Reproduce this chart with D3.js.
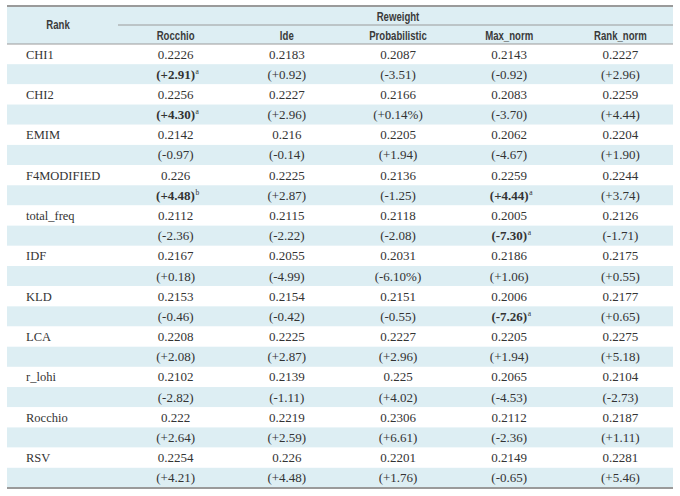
<!DOCTYPE html>
<html><head><meta charset="utf-8">
<script src="https://cdn.jsdelivr.net/npm/d3@7"></script>
<style>
html,body{margin:0;padding:0;background:#fff;}
svg{display:block;}
</style></head>
<body>
<script>
const groupTitle = "Reweight";
const rankTitle = "Rank";
const columns = ["Rocchio", "Ide", "Probabilistic", "Max_norm", "Rank_norm"];
const rowNames = ["CHI1","CHI2","EMIM","F4MODIFIED","total_freq","IDF","KLD","LCA","r_lohi","Rocchio","RSV"];
const values = [
  ["0.2226","0.2183","0.2087","0.2143","0.2227"],
  ["0.2256","0.2227","0.2166","0.2083","0.2259"],
  ["0.2142","0.216","0.2205","0.2062","0.2204"],
  ["0.226","0.2225","0.2136","0.2259","0.2244"],
  ["0.2112","0.2115","0.2118","0.2005","0.2126"],
  ["0.2167","0.2055","0.2031","0.2186","0.2175"],
  ["0.2153","0.2154","0.2151","0.2006","0.2177"],
  ["0.2208","0.2225","0.2227","0.2205","0.2275"],
  ["0.2102","0.2139","0.225","0.2065","0.2104"],
  ["0.222","0.2219","0.2306","0.2112","0.2187"],
  ["0.2254","0.226","0.2201","0.2149","0.2281"]
];
const changes = [
  ["+2.91","+0.92","-3.51","-0.92","+2.96"],
  ["+4.30","+2.96","+0.14%","-3.70","+4.44"],
  ["-0.97","-0.14","+1.94","-4.67","+1.90"],
  ["+4.48","+2.87","-1.25","+4.44","+3.74"],
  ["-2.36","-2.22","-2.08","-7.30","-1.71"],
  ["+0.18","-4.99","-6.10%","+1.06","+0.55"],
  ["-0.46","-0.42","-0.55","-7.26","+0.65"],
  ["+2.08","+2.87","+2.96","+1.94","+5.18"],
  ["-2.82","-1.11","+4.02","-4.53","-2.73"],
  ["+2.64","+2.59","+6.61","-2.36","+1.11"],
  ["+4.21","+4.48","+1.76","-0.65","+5.46"]
];
// significance marks: [row, col, mark]
const marks = [
  [0,0,"a"],[1,0,"a"],[3,0,"b"],[3,3,"a"],[4,3,"a"],[6,3,"a"]
];

const W = 680, H = 496;
const tLeft = 7, tRight = 673, tTop = 6, headH = 38;
const rowH = 20.18;
const bodyTop = tTop + headH;
const nRows = rowNames.length * 2;

const svg = d3.select("body").append("svg").attr("width", W).attr("height", H);

const x = d3.scaleBand().domain(columns).range([120, 676]);
const y = d3.scaleBand().domain(d3.range(nRows)).range([bodyTop, bodyTop + nRows * rowH]);
const cx = c => x(c) + x.bandwidth()/2;

const blue = "#ddeef3";
const text = "#333";
const serif = "'Liberation Serif', 'DejaVu Serif', serif";
const sans = "'Liberation Sans', Arial, sans-serif";

svg.append("rect").attr("x", tLeft).attr("y", tTop).attr("width", tRight-tLeft).attr("height", headH).attr("fill", blue);

svg.selectAll("rect.row").data(d3.range(nRows)).join("rect")
  .attr("class","row")
  .attr("x", tLeft).attr("width", tRight-tLeft)
  .attr("y", d => y(d)).attr("height", y.bandwidth())
  .attr("fill", d => d % 2 === 1 ? blue : "#fff");

svg.append("line").attr("x1", tLeft).attr("x2", tRight).attr("y1", tTop).attr("y2", tTop)
  .attr("stroke", "#9a9a9a").attr("stroke-width", 2);
svg.append("line").attr("x1", tLeft).attr("x2", tRight).attr("y1", bodyTop).attr("y2", bodyTop)
  .attr("stroke", "#9a9a9a").attr("stroke-width", 1);
svg.append("line").attr("x1", 118).attr("x2", tRight).attr("y1", tTop + 19).attr("y2", tTop + 19)
  .attr("stroke", "#9a9a9a").attr("stroke-width", 1);
const bottomY = bodyTop + nRows * rowH;
svg.append("line").attr("x1", tLeft).attr("x2", tRight).attr("y1", bottomY).attr("y2", bottomY)
  .attr("stroke", "#9a9a9a").attr("stroke-width", 2);

// header (condensed semi-bold look)
const hdr = svg.append("g").attr("font-family", sans).attr("font-weight", "bold").attr("font-size", 12).attr("fill", "#3a3a3a").attr("text-anchor","middle");
function hText(str, px, py) {
  hdr.append("text").attr("transform", `translate(${px},${py}) scale(0.8,1)`).text(str);
}
hText(rankTitle, 58, tTop + 23);
hText(groupTitle, 398, tTop + 15);
columns.forEach(c => hText(c, cx(c), tTop + 34));

const body = svg.append("g").attr("font-family", serif).attr("font-size", 13).attr("fill", text);
body.selectAll("text.name").data(rowNames).join("text").attr("class","name")
  .attr("x", 26).attr("y", (d,i) => y(i*2) + y.bandwidth()/2 + 4.5)
  .attr("textLength", null)
  .style("font-size", "12.5px")
  .text(d => d);

values.forEach((row, i) => {
  body.selectAll(null).data(row).join("text")
    .attr("text-anchor","middle")
    .attr("x", (d,j) => cx(columns[j]))
    .attr("y", y(i*2) + y.bandwidth()/2 + 4.5)
    .text(d => d);
});
changes.forEach((row, i) => {
  row.forEach((d, j) => {
    const m = marks.find(mm => mm[0] === i && mm[1] === j);
    const t = body.append("text")
      .attr("text-anchor","middle")
      .attr("x", cx(columns[j]) + (m ? 2 : 0))
      .attr("y", y(i*2+1) + y.bandwidth()/2 + 4.5);
    if (m) {
      t.append("tspan").attr("font-weight","bold").text("(" + d + ")");
      t.append("tspan").attr("font-size", 7.5).attr("dy", -5).attr("dx", 0.5).text(m[2]);
    } else {
      t.text("(" + d + ")");
    }
  });
});
</script>
</body></html>
